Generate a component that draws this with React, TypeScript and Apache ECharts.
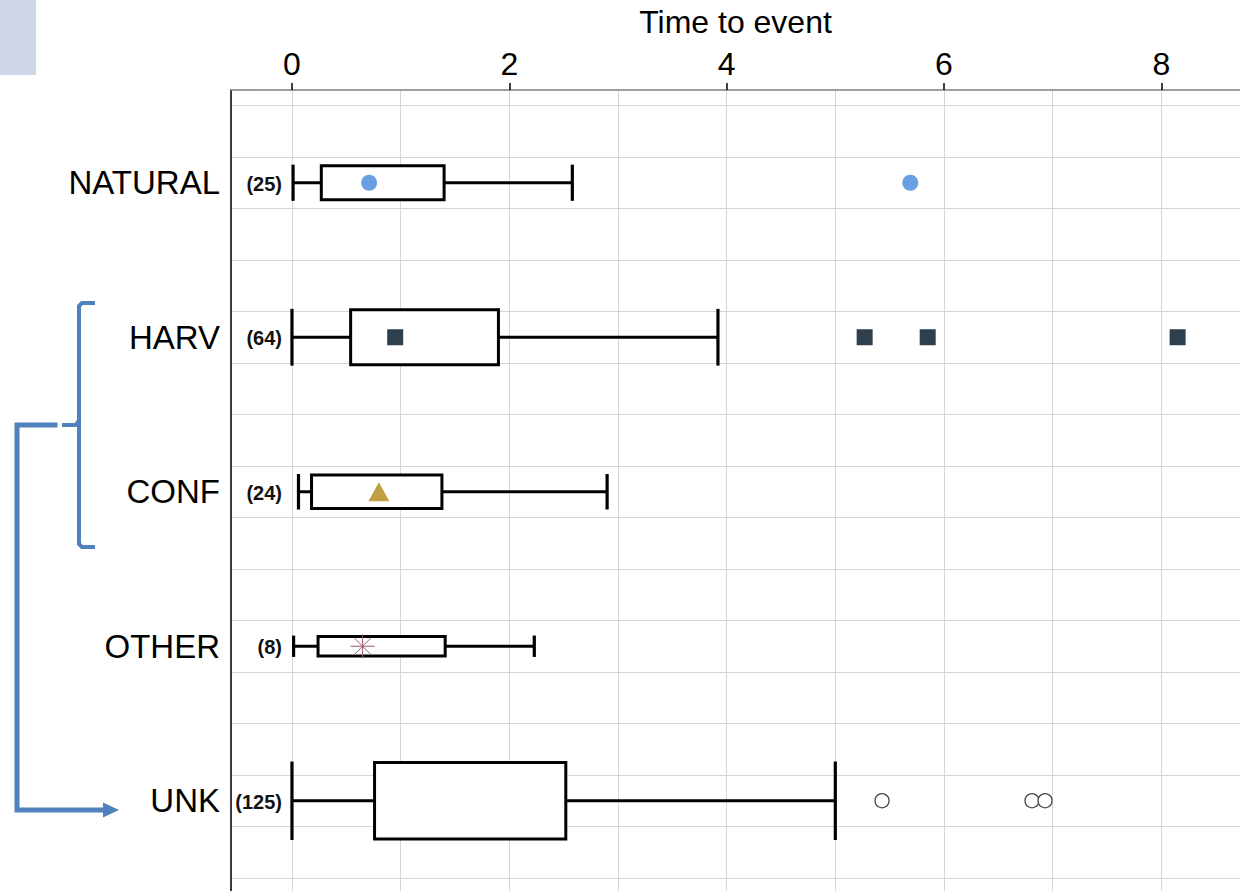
import React, { useEffect, useRef } from 'react';
import * as echarts from 'echarts';

// ---- data ----
const CATEGORIES = ['NATURAL', 'HARV', 'CONF', 'OTHER', 'UNK'];
const COUNTS = [25, 64, 24, 8, 125];
const WHISKER_LOW = [0.01, 0.0, 0.06, 0.015, 0.0];
const Q1 = [0.27, 0.54, 0.18, 0.24, 0.76];
const Q3 = [1.4, 1.9, 1.38, 1.41, 2.52];
const WHISKER_HIGH = [2.58, 3.92, 2.9, 2.23, 5.0];
const MARKER_NATURAL = [0.71];
const MARKER_HARV = [0.95];
const MARKER_CONF = [0.8];
const MARKER_OTHER = [0.65];
const OUTLIERS_NATURAL = [5.69];
const OUTLIERS_HARV = [5.27, 5.85, 8.15];
const OUTLIERS_UNK = [5.43, 6.81, 6.93];
const X_MIN = -0.561;
const X_MAX = 8.724;
const ROW_GRID_MAX = 15; // horizontal gridline count (3 per category)

const FONT = "'Liberation Sans', Arial, Helvetica, sans-serif";
const BLUE = '#4f81bd';
const GRID_COLOR = '#d6d6d6';

export default function App() {
  const ref = useRef<HTMLDivElement>(null);

  useEffect(() => {
    if (!ref.current) return;
    const chart = echarts.init(ref.current, undefined, { renderer: 'svg' });

    const boxData = CATEGORIES.map((_, i) => [
      i,
      WHISKER_LOW[i],
      Q1[i],
      Q3[i],
      WHISKER_HIGH[i],
      COUNTS[i],
    ]);

    const option: any = {
      animation: false,
      backgroundColor: '#ffffff',
      textStyle: { fontFamily: FONT },
      grid: [
        { left: 231, right: 0, top: 90, bottom: 0, containLabel: false },
        { left: 231, right: 0, top: 105.5, bottom: 13, containLabel: false },
      ],
      xAxis: [
        {
          gridIndex: 0,
          type: 'value',
          position: 'top',
          min: X_MIN,
          max: X_MAX,
          splitNumber: 4,
          name: 'Time to event',
          nameLocation: 'middle',
          nameGap: 52,
          nameTextStyle: { fontSize: 32, color: '#000', fontFamily: FONT },
          axisLine: { show: true, onZero: false, lineStyle: { color: '#7f7f7f', width: 1.6 } },
          axisTick: { show: true, length: 7, lineStyle: { color: '#000', width: 1.5 } },
          axisLabel: {
            show: true,
            fontSize: 32,
            color: '#000',
            fontFamily: FONT,
            margin: 10,
            showMinLabel: false,
            showMaxLabel: false,
          },
          splitLine: { show: false },
        },
        {
          gridIndex: 0,
          type: 'value',
          position: 'bottom',
          min: X_MIN,
          max: X_MAX,
          splitNumber: 9,
          axisLine: { show: false, onZero: false },
          axisTick: { show: false },
          axisLabel: { show: false },
          splitLine: { show: true, showMaxLine: false, lineStyle: { color: GRID_COLOR, width: 1 } },
        },
        {
          gridIndex: 1,
          type: 'value',
          min: X_MIN,
          max: X_MAX,
          show: false,
          axisLine: { onZero: false },
        },
      ],
      yAxis: [
        {
          gridIndex: 0,
          type: 'value',
          min: 0,
          max: 1,
          position: 'left',
          axisLine: { show: true, onZero: false, lineStyle: { color: '#000', width: 1.5 } },
          axisTick: { show: false },
          axisLabel: { show: false },
          splitLine: { show: false },
        },
        {
          gridIndex: 1,
          type: 'category',
          data: CATEGORIES,
          inverse: true,
          position: 'left',
          axisLine: { show: false, onZero: false },
          axisTick: { show: false },
          splitLine: { show: false },
          axisLabel: { fontSize: 33, color: '#000', fontFamily: FONT, margin: 11 },
        },
        {
          gridIndex: 1,
          type: 'value',
          min: 0,
          max: ROW_GRID_MAX,
          interval: 1,
          inverse: true,
          position: 'right',
          axisLine: { show: false, onZero: false },
          axisTick: { show: false },
          axisLabel: { show: false },
          splitLine: { show: true, lineStyle: { color: GRID_COLOR, width: 1 } },
        },
      ],
      series: [
        {
          type: 'custom',
          xAxisIndex: 2,
          yAxisIndex: 1,
          z: 2,
          encode: { x: [1, 2, 3, 4], y: 0 },
          data: boxData,
          renderItem: (_params: any, api: any) => {
            const cat = api.value(0);
            const lo = api.coord([api.value(1), cat]);
            const q1 = api.coord([api.value(2), cat]);
            const q3 = api.coord([api.value(3), cat]);
            const hi = api.coord([api.value(4), cat]);
            const zero = api.coord([0, cat]);
            const n = api.value(5);
            const band = api.size([0, 1])[1];
            const h = band * 0.0443 * Math.sqrt(n);
            const y = lo[1];
            const st = { stroke: '#000', lineWidth: 3, fill: null };
            return {
              type: 'group',
              children: [
                { type: 'line', shape: { x1: lo[0], y1: y, x2: q1[0], y2: y }, style: st },
                { type: 'line', shape: { x1: q3[0], y1: y, x2: hi[0], y2: y }, style: st },
                { type: 'line', shape: { x1: lo[0], y1: y - h / 2 - 1, x2: lo[0], y2: y + h / 2 + 1 }, style: { ...st, lineWidth: 3.2 } },
                { type: 'line', shape: { x1: hi[0], y1: y - h / 2 - 1, x2: hi[0], y2: y + h / 2 + 1 }, style: { ...st, lineWidth: 3.2 } },
                {
                  type: 'rect',
                  shape: { x: q1[0], y: y - h / 2, width: q3[0] - q1[0], height: h },
                  style: { fill: '#fff', stroke: '#000', lineWidth: 3 },
                },
                {
                  type: 'text',
                  x: zero[0] - 10,
                  y: y + 1,
                  style: {
                    text: '(' + n + ')',
                    align: 'right',
                    verticalAlign: 'middle',
                    fontSize: 20,
                    fontWeight: 'bold',
                    fontFamily: FONT,
                    fill: '#111',
                  },
                },
              ],
            };
          },
        },
        {
          type: 'scatter',
          name: 'NATURAL',
          xAxisIndex: 2,
          yAxisIndex: 1,
          z: 3,
          symbol: 'circle',
          symbolSize: 16,
          itemStyle: { color: '#6a9fe3', opacity: 1 },
          data: [...MARKER_NATURAL, ...OUTLIERS_NATURAL].map((v) => [v, 'NATURAL']),
        },
        {
          type: 'scatter',
          name: 'HARV',
          xAxisIndex: 2,
          yAxisIndex: 1,
          z: 3,
          symbol: 'rect',
          symbolSize: 16,
          itemStyle: { color: '#2e3f4d', opacity: 1 },
          data: [...MARKER_HARV, ...OUTLIERS_HARV].map((v) => [v, 'HARV']),
        },
        {
          type: 'scatter',
          name: 'CONF',
          xAxisIndex: 2,
          yAxisIndex: 1,
          z: 3,
          symbol: 'triangle',
          symbolSize: [21, 19],
          itemStyle: { color: '#bf9f41', opacity: 1 },
          data: MARKER_CONF.map((v) => [v, 'CONF']),
        },
        {
          type: 'scatter',
          name: 'OTHER',
          xAxisIndex: 2,
          yAxisIndex: 1,
          z: 3,
          symbol: 'path://M0 12H24M12 0V24M3.5 3.5L20.5 20.5M20.5 3.5L3.5 20.5',
          symbolSize: 24,
          itemStyle: { color: 'none', borderColor: '#9a5a70', borderWidth: 1, opacity: 1 },
          data: MARKER_OTHER.map((v) => [v, 'OTHER']),
        },
        {
          type: 'scatter',
          name: 'UNK',
          xAxisIndex: 2,
          yAxisIndex: 1,
          z: 3,
          symbol: 'circle',
          symbolSize: 14,
          itemStyle: { color: '#ffffff', borderColor: '#444444', borderWidth: 1.3, opacity: 1 },
          data: OUTLIERS_UNK.map((v) => [v, 'UNK']),
        },
      ],
      graphic: [
        { type: 'rect', left: 0, top: 0, shape: { x: 0, y: 0, width: 36, height: 75 }, style: { fill: '#cfd6e7' }, z: 10 },
        {
          type: 'polyline',
          shape: { points: [[95, 303], [82, 303], [79, 306], [79, 544], [82, 547], [95, 547]] },
          style: { stroke: BLUE, lineWidth: 4, fill: null, lineJoin: 'round' },
          z: 10,
        },
        {
          type: 'polyline',
          shape: { points: [[79, 420], [76, 425], [62, 425]] },
          style: { stroke: BLUE, lineWidth: 4, fill: null, lineJoin: 'round' },
          z: 10,
        },
        {
          type: 'polyline',
          shape: { points: [[57.5, 425], [17, 425], [17, 810], [104, 810]] },
          style: { stroke: BLUE, lineWidth: 5, fill: null, lineJoin: 'miter' },
          z: 10,
        },
        {
          type: 'polygon',
          shape: { points: [[103, 802.5], [119, 810], [103, 817.5]] },
          style: { fill: BLUE },
          z: 10,
        },
      ],
    };

    chart.setOption(option);
    return () => {
      chart.dispose();
    };
  }, []);

  return (
    <div
      ref={ref}
      style={{ position: 'absolute', left: 0, top: 0, width: 1240, height: 891, background: '#fff' }}
    />
  );
}
